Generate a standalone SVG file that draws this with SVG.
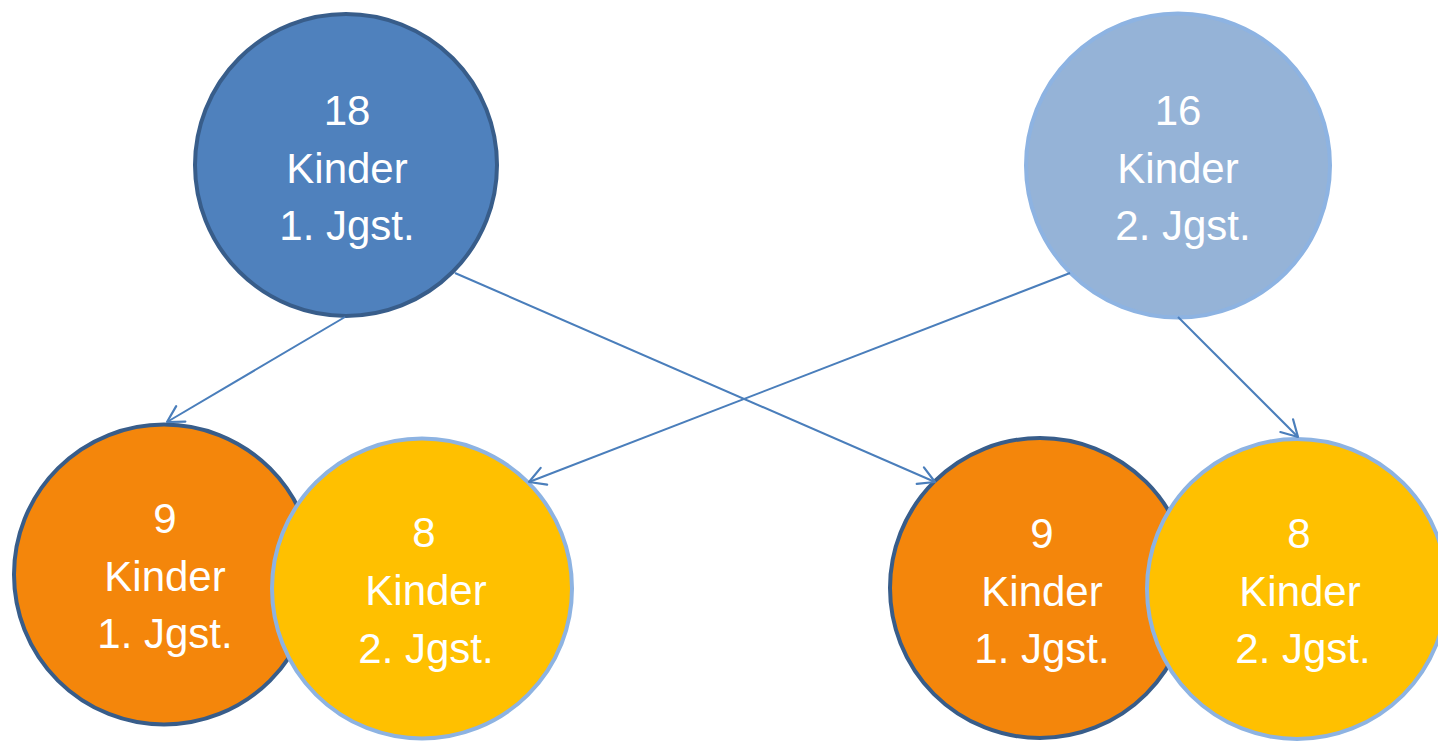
<svg xmlns="http://www.w3.org/2000/svg" width="1438" height="741" viewBox="0 0 1438 741">
<style>
.t{font-family:"Liberation Sans",Arial,sans-serif;font-size:42px;fill:#ffffff;text-anchor:middle}
.dark{fill:#4F81BD;stroke:#385D8A;stroke-width:4}
.light{fill:#95B3D7;stroke:#8DB3E2;stroke-width:4}
.or{fill:#F4860B;stroke:#385D8A;stroke-width:4}
.ye{fill:#FFC000;stroke:#8DB3E2;stroke-width:4}
.c{stroke:#4A7EBB;stroke-width:2;fill:none;marker-end:url(#arr)}
</style>
<defs>
<marker id="arr" markerUnits="userSpaceOnUse" markerWidth="22" markerHeight="22" refX="18" refY="10" orient="auto" overflow="visible">
<path d="M2,1 L18,10 L2,19" fill="none" stroke="#4A7EBB" stroke-width="2.2" stroke-linecap="round" stroke-linejoin="round"/>
</marker>
</defs>
<rect width="1438" height="741" fill="#ffffff"/>
<g id="n-orange-left">
<circle class="or" cx="164" cy="574.5" r="150"/>
<text class="t" x="165" y="533">9</text>
<text class="t" x="165" y="590.5">Kinder</text>
<text class="t" x="165" y="648">1. Jgst.</text>
</g>
<g id="n-yellow-left">
<circle class="ye" cx="422" cy="588.5" r="150"/>
<text class="t" x="424" y="547">8</text>
<text class="t" x="426" y="605">Kinder</text>
<text class="t" x="426" y="663">2. Jgst.</text>
</g>
<g id="n-orange-right">
<circle class="or" cx="1040" cy="588" r="150"/>
<text class="t" x="1042" y="547.5">9</text>
<text class="t" x="1042" y="605.5">Kinder</text>
<text class="t" x="1042" y="663">1. Jgst.</text>
</g>
<g id="n-yellow-right">
<circle class="ye" cx="1297" cy="589" r="150"/>
<text class="t" x="1299" y="547.5">8</text>
<text class="t" x="1300" y="605.5">Kinder</text>
<text class="t" x="1303" y="663">2. Jgst.</text>
</g>
<g id="n-18">
<circle class="dark" cx="346" cy="165" r="151"/>
<text class="t" x="347" y="125">18</text>
<text class="t" x="347" y="182.5">Kinder</text>
<text class="t" x="347" y="240">1. Jgst.</text>
</g>
<g id="n-16">
<circle class="light" cx="1178" cy="165.5" r="152"/>
<text class="t" x="1178" y="125">16</text>
<text class="t" x="1178" y="182.5">Kinder</text>
<text class="t" x="1183" y="240">2. Jgst.</text>
</g>
<g id="connectors">
<line class="c" x1="345" y1="317" x2="167" y2="422"/>
<line class="c" x1="455" y1="273" x2="935" y2="482"/>
<line class="c" x1="1070" y1="273" x2="529" y2="482"/>
<line class="c" x1="1178" y1="317" x2="1298" y2="437"/>
</g>
</svg>
